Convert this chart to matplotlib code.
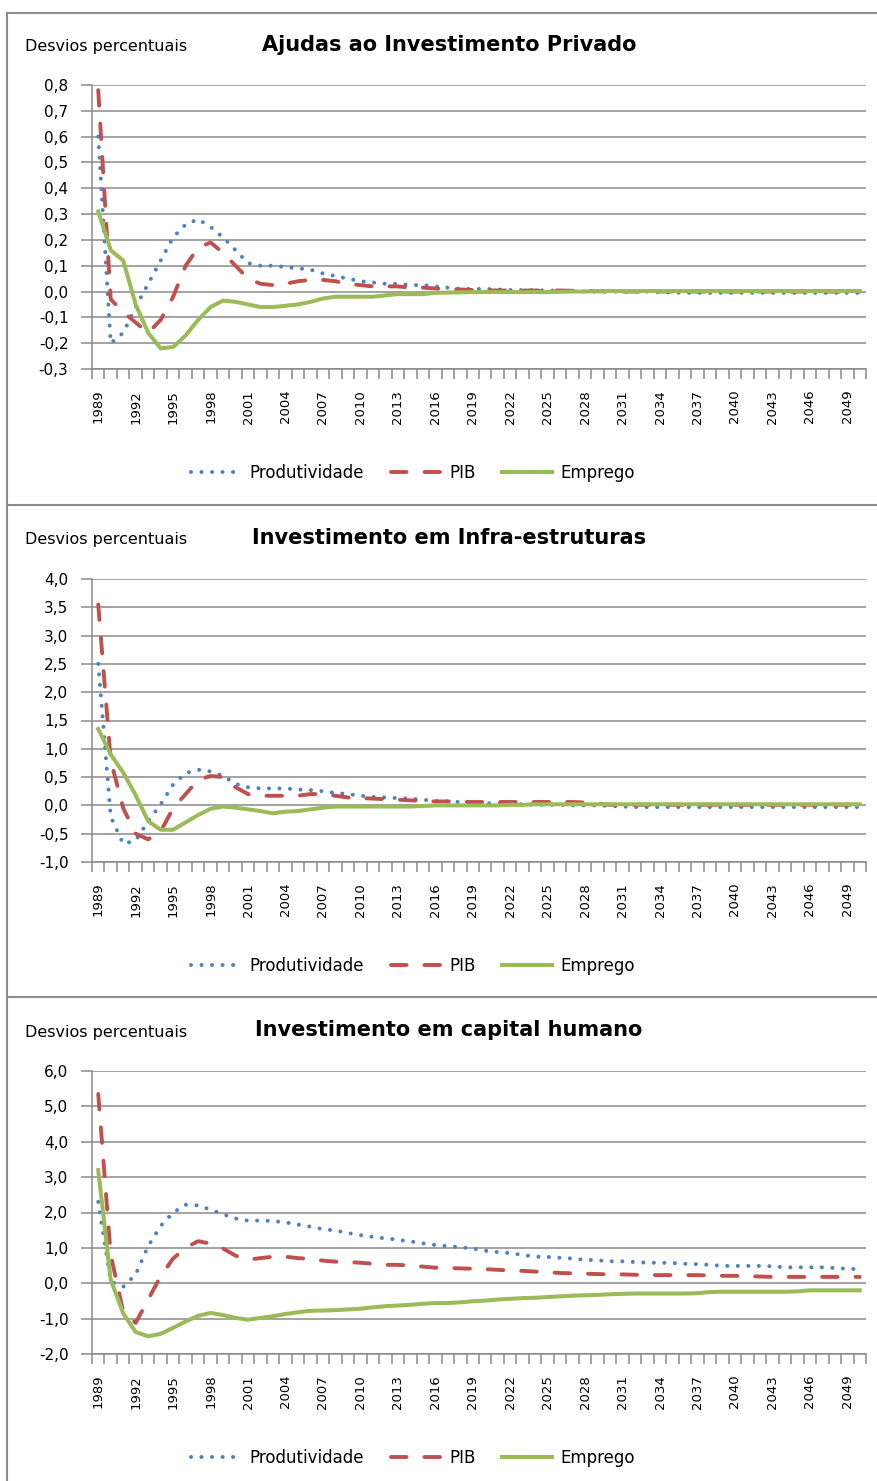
import numpy as np
import matplotlib
matplotlib.use("Agg")
import matplotlib.pyplot as plt
from matplotlib.lines import Line2D
from matplotlib.ticker import FuncFormatter, FixedLocator

# categorias (anos)
anos = list(range(1989, 2051))

# --- Ajudas ao Investimento Privado ---
prod1 = [0.60, -0.20, -0.16, -0.06, 0.03, 0.12, 0.21, 0.26, 0.28, 0.25,
         0.21, 0.16, 0.11, 0.10, 0.10, 0.095, 0.09, 0.085, 0.07, 0.06,
         0.05, 0.04, 0.035, 0.03, 0.03, 0.025, 0.025, 0.02, 0.015, 0.01,
         0.01, 0.01, 0.008, 0.006, 0.005, 0.005, 0.004, 0.003, 0.002, 0.001,
         0.0, 0.0, 0.0, 0.0, 0.0, -0.002, -0.004, -0.005, -0.005, -0.005,
         -0.005, -0.005, -0.005, -0.005, -0.005, -0.005, -0.005, -0.005, -0.005, -0.005,
         -0.005, -0.005]
pib1 = [0.78, -0.03, -0.08, -0.12, -0.16, -0.11, -0.02, 0.10, 0.17, 0.19,
        0.15, 0.10, 0.05, 0.03, 0.025, 0.03, 0.04, 0.045, 0.045, 0.04,
        0.03, 0.025, 0.02, 0.02, 0.02, 0.015, 0.015, 0.012, 0.01, 0.008,
        0.006, 0.005, 0.004, 0.004, 0.004, 0.004, 0.004, 0.004, 0.003, 0.002,
        0.001, 0.0, 0.0, 0.0, 0.0, 0.0, 0.0, 0.0, 0.0, 0.0,
        0.0, 0.0, 0.0, 0.0, 0.0, 0.0, 0.0, 0.0, 0.0, 0.0,
        0.0, 0.0]
emp1 = [0.31, 0.16, 0.12, -0.05, -0.16, -0.22, -0.215, -0.17, -0.11, -0.06,
        -0.035, -0.04, -0.05, -0.06, -0.06, -0.055, -0.05, -0.04, -0.027, -0.02,
        -0.02, -0.02, -0.02, -0.015, -0.01, -0.01, -0.01, -0.005, -0.004, -0.003,
        -0.002, -0.002, -0.002, -0.002, -0.002, -0.002, -0.002, -0.001, 0.0, 0.0,
        0.002, 0.002, 0.002, 0.002, 0.002, 0.002, 0.002, 0.002, 0.002, 0.002,
        0.002, 0.002, 0.002, 0.002, 0.002, 0.002, 0.002, 0.002, 0.002, 0.002,
        0.002, 0.002]

# --- Investimento em Infra-estruturas ---
prod2 = [2.50, -0.20, -0.68, -0.62, -0.28, 0.02, 0.37, 0.57, 0.63, 0.60,
         0.52, 0.38, 0.32, 0.30, 0.30, 0.30, 0.28, 0.27, 0.25, 0.22,
         0.20, 0.17, 0.15, 0.14, 0.13, 0.12, 0.10, 0.08, 0.07, 0.06,
         0.05, 0.04, 0.03, 0.02, 0.02, 0.01, 0.01, 0.01, 0.0, 0.0,
         0.0, -0.01, -0.02, -0.03, -0.03, -0.03, -0.03, -0.03, -0.03, -0.03,
         -0.03, -0.03, -0.03, -0.03, -0.03, -0.03, -0.03, -0.03, -0.03, -0.03,
         -0.03, -0.03]
pib2 = [3.55, 0.80, -0.05, -0.50, -0.60, -0.46, -0.05, 0.20, 0.45, 0.52,
        0.50, 0.32, 0.20, 0.17, 0.17, 0.17, 0.17, 0.20, 0.20, 0.17,
        0.14, 0.13, 0.12, 0.11, 0.10, 0.09, 0.08, 0.07, 0.07, 0.065,
        0.06, 0.06, 0.06, 0.06, 0.06, 0.06, 0.06, 0.06, 0.06, 0.05,
        0.03, 0.01, 0.01, 0.01, 0.01, 0.01, 0.01, 0.01, 0.01, 0.01,
        0.01, 0.01, 0.01, 0.01, 0.01, 0.01, 0.01, 0.01, 0.01, 0.01,
        0.01, 0.01]
emp2 = [1.35, 0.90, 0.58, 0.18, -0.28, -0.43, -0.43, -0.30, -0.17, -0.06,
        -0.02, -0.04, -0.07, -0.10, -0.14, -0.11, -0.10, -0.07, -0.04, -0.02,
        -0.02, -0.02, -0.02, -0.02, -0.02, -0.02, -0.01, 0.0, 0.0, 0.0,
        0.0, 0.0, 0.0, 0.01, 0.01, 0.02, 0.02, 0.02, 0.02, 0.02,
        0.02, 0.02, 0.02, 0.02, 0.02, 0.02, 0.02, 0.02, 0.02, 0.02,
        0.02, 0.02, 0.02, 0.02, 0.02, 0.02, 0.02, 0.02, 0.02, 0.02,
        0.02, 0.02]

# --- Investimento em capital humano ---
prod3 = [2.30, 0.05, -0.10, 0.25, 1.05, 1.62, 2.00, 2.22, 2.20, 2.08,
         1.95, 1.83, 1.77, 1.77, 1.76, 1.72, 1.66, 1.60, 1.53, 1.49,
         1.42, 1.36, 1.31, 1.27, 1.23, 1.18, 1.13, 1.08, 1.05, 1.02,
         0.98, 0.92, 0.88, 0.85, 0.80, 0.75, 0.745, 0.72, 0.70, 0.66,
         0.65, 0.62, 0.62, 0.60, 0.58, 0.58, 0.57, 0.55, 0.54, 0.52,
         0.49, 0.49, 0.49, 0.49, 0.48, 0.45, 0.45, 0.45, 0.45, 0.43,
         0.41, 0.40]
pib3 = [5.35, 0.80, -0.80, -1.12, -0.46, 0.20, 0.70, 1.00, 1.19, 1.12,
        0.98, 0.78, 0.67, 0.71, 0.75, 0.75, 0.71, 0.69, 0.64, 0.61,
        0.60, 0.58, 0.55, 0.52, 0.52, 0.50, 0.47, 0.44, 0.43, 0.42,
        0.41, 0.40, 0.38, 0.36, 0.35, 0.33, 0.31, 0.29, 0.28, 0.27,
        0.26, 0.25, 0.25, 0.24, 0.23, 0.23, 0.23, 0.23, 0.23, 0.22,
        0.21, 0.21, 0.20, 0.19, 0.18, 0.18, 0.18, 0.18, 0.18, 0.18,
        0.18, 0.18]
emp3 = [3.20, 0.10, -0.85, -1.38, -1.50, -1.43, -1.26, -1.08, -0.92, -0.84,
        -0.90, -0.98, -1.03, -0.98, -0.93, -0.87, -0.82, -0.78, -0.77, -0.76,
        -0.74, -0.72, -0.68, -0.65, -0.63, -0.61, -0.58, -0.56, -0.56, -0.54,
        -0.51, -0.49, -0.46, -0.44, -0.42, -0.41, -0.39, -0.37, -0.35, -0.34,
        -0.33, -0.31, -0.30, -0.29, -0.29, -0.29, -0.29, -0.29, -0.28, -0.25,
        -0.24, -0.24, -0.24, -0.24, -0.24, -0.24, -0.23, -0.20, -0.20, -0.20,
        -0.20, -0.20]

titulos = ["Ajudas ao Investimento Privado",
           "Investimento em Infra-estruturas",
           "Investimento em capital humano"]
ylims = [(-0.3, 0.8), (-1.0, 4.0), (-2.0, 6.0)]
ysteps = [0.1, 0.5, 1.0]

W, H = 878, 1481
AZUL, VERM, VERDE = "#4F81BD", "#C0504D", "#9BBB59"
GRELHA = "#8a8a8a"


def fx(x):
    return x / W


def fy(y):
    return 1 - y / H


def painel(fig, top, bot, dados, titulo, ylim, ystep, off):
    ax = fig.add_axes([fx(92), fy(bot), fx(866) - fx(92), fy(top) - fy(bot)])
    x = np.arange(len(anos))
    ax.plot(x, dados[0], color=AZUL, lw=2.9, linestyle=(0, (0.01, 2.6)),
            dash_capstyle="round", label="Produtividade")
    ax.plot(x, dados[1], color=VERM, lw=2.8, linestyle=(0, (4.0, 4.6)),
            dash_capstyle="round", label="PIB")
    ax.plot(x, dados[2], color=VERDE, lw=2.9, label="Emprego")
    ax.set_xlim(-0.5, len(anos) - 0.5)
    ax.set_ylim(*ylim)
    yt = np.round(np.arange(ylim[0], ylim[1] + ystep / 2, ystep), 2)
    ax.set_yticks(yt)
    ax.yaxis.set_major_formatter(FuncFormatter(lambda v, p: f"{v:.1f}".replace(".", ",")))
    ax.yaxis.grid(True, color=GRELHA, lw=1.1)
    ax.set_axisbelow(True)
    ax.set_xticks(x[::3])
    ax.set_xticklabels([str(a) for a in anos[::3]], rotation=90, fontsize=9.5)
    ax.xaxis.set_minor_locator(FixedLocator(np.arange(-0.5, len(anos), 1)))
    ax.tick_params(axis="x", which="major", length=0, pad=15)
    ax.tick_params(axis="x", which="minor", length=7, color=GRELHA, width=1.1)
    ax.tick_params(axis="y", length=8, color=GRELHA, width=1.1, labelsize=11, pad=9)
    for s in ["top", "right"]:
        ax.spines[s].set_visible(False)
    for s in ["left", "bottom"]:
        ax.spines[s].set_color(GRELHA)
        ax.spines[s].set_linewidth(1.1)
    fig.text(fx(449), fy(off + 45), titulo, ha="center", va="center",
             fontsize=15, fontweight="bold")
    fig.text(fx(25), fy(off + 47), "Desvios percentuais", ha="left", va="center",
             fontsize=11.5)
    fig.legend(*ax.get_legend_handles_labels(), loc="center",
               bbox_to_anchor=(fx(413), fy(off + 473)), ncol=3, frameon=False,
               fontsize=12, handlelength=3.0, handletextpad=0.5, columnspacing=1.6)
    return ax


fig = plt.figure(figsize=(W / 100, H / 100), dpi=100)
series = [(prod1, pib1, emp1), (prod2, pib2, emp2), (prod3, pib3, emp3)]
caixas = [(85, 369, 0), (579, 862, 493), (1071, 1354, 985)]
for (top, bot, off), dados, tit, yl, ys in zip(caixas, series, titulos, ylims, ysteps):
    painel(fig, top, bot, dados, tit, yl, ys, off)

# molduras dos painéis
borda = dict(color="#8c8c8c", lw=1.5, transform=fig.transFigure)
fig.add_artist(Line2D([fx(7), fx(7)], [fy(13), 0], **borda))
for yb in [13, 505, 997]:
    fig.add_artist(Line2D([fx(7), 1], [fy(yb), fy(yb)], **borda))

fig.savefig("out.png", dpi=100)
